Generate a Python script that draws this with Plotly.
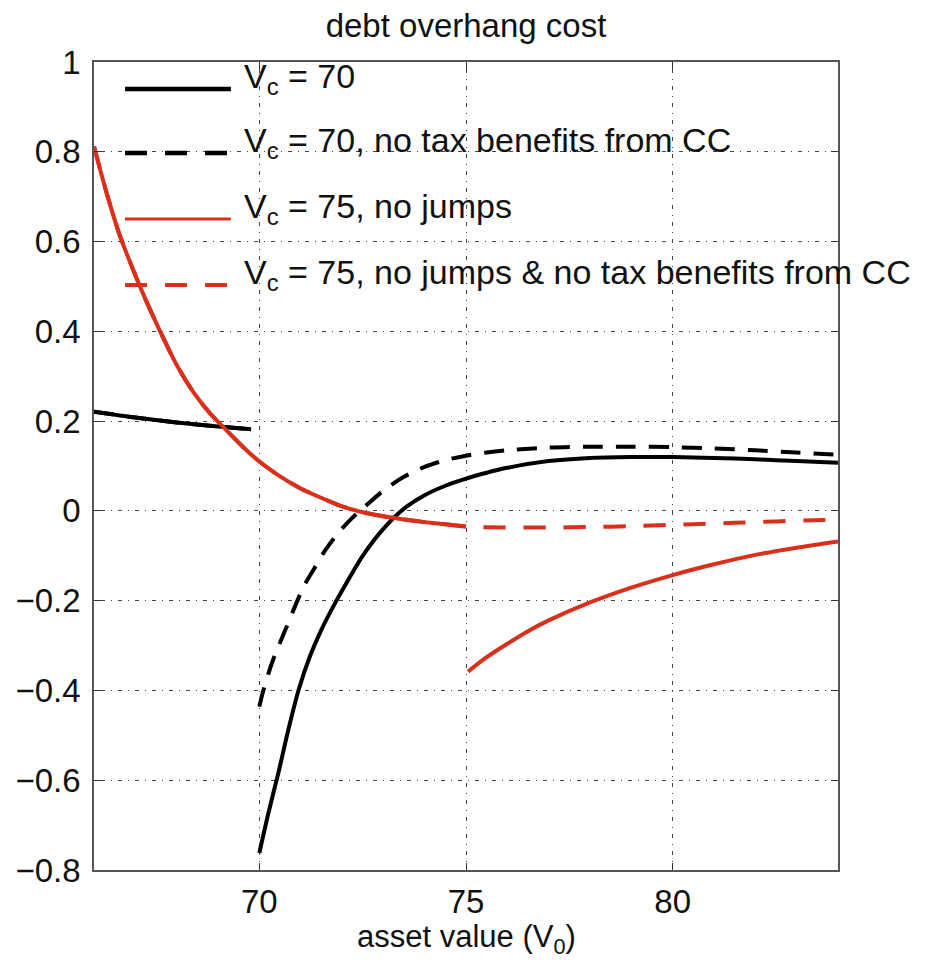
import plotly.graph_objects as go

# ---------------- data ----------------
# V_c = 70 (solid black): branch below 70 and branch from 70 on
bk_solid_x1 = [66.0, 67.0, 68.0, 69.0, 69.8]
bk_solid_y1 = [0.221, 0.208, 0.197, 0.188, 0.182]
bk_solid_x2 = [70.0, 70.22, 70.46, 70.7, 70.95, 71.22, 71.5, 71.83, 72.15, 72.5, 73.0, 73.5,
               74.0, 74.5, 75.0, 75.5, 76.0, 77.0, 78.0, 79.0, 80.0, 81.0, 82.0, 83.0, 84.0]
bk_solid_y2 = [-0.762, -0.673, -0.584, -0.488, -0.399, -0.325, -0.265, -0.206, -0.154, -0.10,
               -0.04, 0.005, 0.035, 0.056, 0.072, 0.085, 0.096, 0.111, 0.118, 0.12, 0.12,
               0.118, 0.115, 0.111, 0.107]

# V_c = 70, no tax benefits from CC (dashed black)
bk_dash_x1 = [66.0, 67.0, 68.0, 69.0, 69.8]
bk_dash_y1 = [0.221, 0.208, 0.197, 0.188, 0.182]
bk_dash_x2 = [70.0, 70.1, 70.3, 70.46, 70.63, 70.83, 71.07, 71.35, 71.6, 71.9, 72.2, 72.56,
              73.0, 73.5, 74.0, 74.5, 75.0, 75.5, 76.0, 77.0, 78.0, 79.0, 80.0, 81.0, 82.0,
              83.0, 84.0]
bk_dash_y2 = [-0.436, -0.399, -0.34, -0.302, -0.265, -0.22, -0.169, -0.125, -0.087, -0.05,
              -0.02, 0.01, 0.045, 0.076, 0.098, 0.113, 0.123, 0.13, 0.135, 0.141, 0.143,
              0.143, 0.142, 0.139, 0.135, 0.13, 0.125]

# V_c = 75, no jumps (solid red)
rd_solid_x1 = [66.0, 66.3, 66.6, 67.0, 67.3, 67.6, 68.0, 68.4, 68.8, 69.2, 69.6, 70.0, 70.5,
               71.0, 71.5, 72.0, 72.5, 73.0, 73.5, 74.0, 74.5, 75.0]
rd_solid_y1 = [0.812, 0.71, 0.62, 0.525, 0.46, 0.40, 0.325, 0.265, 0.218, 0.18, 0.143, 0.11,
               0.077, 0.05, 0.029, 0.01, -0.003, -0.012, -0.019, -0.025, -0.03, -0.035]
rd_solid_x2 = [75.05, 75.5, 76.0, 76.5, 77.0, 78.0, 79.0, 80.0, 81.0, 82.0, 83.0, 84.0]
rd_solid_y2 = [-0.358, -0.326, -0.296, -0.268, -0.244, -0.204, -0.171, -0.143, -0.119,
               -0.098, -0.082, -0.068]

# V_c = 75, no jumps & no tax benefits from CC (dashed red)
rd_dash_x = rd_solid_x1 + [76.0, 77.0, 78.0, 79.0, 80.0, 81.0, 82.0, 83.0, 84.0]
rd_dash_y = rd_solid_y1 + [-0.037, -0.037, -0.036, -0.034, -0.031, -0.028, -0.025, -0.022,
                           -0.02]

series_names = [
    "V<sub>c</sub> = 70",
    "V<sub>c</sub> = 70, no tax benefits from CC",
    "V<sub>c</sub> = 75, no jumps",
    "V<sub>c</sub> = 75, no jumps & no tax benefits from CC",
]
title_text = "debt overhang cost"
x_title = "asset value (V<sub>0</sub>)"
x_ticks = [70, 75, 80]
y_ticks = [-0.8, -0.6, -0.4, -0.2, 0, 0.2, 0.4, 0.6, 0.8, 1]
y_tick_text = ["\u22120.8", "\u22120.6", "\u22120.4", "\u22120.2", "0", "0.2", "0.4", "0.6",
               "0.8", "1"]

# ---------------- styles ----------------
BLACK = "#000000"
RED = "#d9301c"
TXT = "#111111"
FONT = "Liberation Sans, Arial, sans-serif"

def join(xa, ya, xb, yb):
    return xa + [None] + xb, ya + [None] + yb

fig = go.Figure()

x, y = join(bk_dash_x1, bk_dash_y1, bk_dash_x2, bk_dash_y2)
fig.add_trace(go.Scatter(x=x, y=y, mode="lines", name=series_names[1],
                         line=dict(color=BLACK, width=4, dash="20px,13px", shape="spline",
                                   smoothing=0.8),
                         connectgaps=False, showlegend=False))
x, y = join(bk_solid_x1, bk_solid_y1, bk_solid_x2, bk_solid_y2)
fig.add_trace(go.Scatter(x=x, y=y, mode="lines", name=series_names[0],
                         line=dict(color=BLACK, width=4, shape="spline", smoothing=0.8),
                         connectgaps=False, showlegend=False))
fig.add_trace(go.Scatter(x=rd_dash_x, y=rd_dash_y, mode="lines", name=series_names[3],
                         line=dict(color=RED, width=4, dash="22px,18px", shape="spline",
                                   smoothing=0.8),
                         showlegend=False))
x, y = join(rd_solid_x1, rd_solid_y1, rd_solid_x2, rd_solid_y2)
fig.add_trace(go.Scatter(x=x, y=y, mode="lines", name=series_names[2],
                         line=dict(color=RED, width=4, shape="spline", smoothing=0.8),
                         connectgaps=False, showlegend=False))

# ---------------- legend drawn like the original (long line samples) ----------------
leg_rows = [0.9666, 0.8874, 0.8057, 0.7240]
leg_styles = [
    dict(color=BLACK, width=4.5, dash="solid"),
    dict(color=BLACK, width=4.5, dash="22px,18px"),
    dict(color=RED, width=3, dash="solid"),
    dict(color=RED, width=4, dash="22px,18px"),
]
for k, (yy, st) in enumerate(zip(leg_rows, leg_styles)):
    fig.add_shape(type="line", xref="paper", yref="paper", x0=0.0417, x1=0.184, y0=yy, y1=yy,
                  line=st)
    fig.add_annotation(xref="paper", yref="paper", x=0.199, y=yy + 0.013, xanchor="left",
                       yanchor="middle", text=series_names[k], showarrow=False,
                       font=dict(family=FONT, size=34, color=TXT))

# x-axis title placed as text under the tick labels
fig.add_annotation(xref="paper", yref="paper", x=0.5, y=-0.086, xanchor="center",
                   yanchor="middle", text=x_title, showarrow=False,
                   font=dict(family=FONT, size=31, color=TXT))

grid_dash = "1px,6px,4px,6px"
common_axis = dict(ticks="inside", ticklen=7, tickcolor="#333", showline=True,
                   linecolor="#555", linewidth=1.5, mirror="allticks", showgrid=True,
                   gridcolor="#444", gridwidth=1, griddash=grid_dash, zeroline=False,
                   tickfont=dict(family=FONT, size=33, color=TXT))
fig.update_xaxes(range=[66, 84], tickvals=x_ticks, ticklabelstandoff=2, **common_axis)
fig.update_yaxes(range=[-0.8, 1], tickvals=y_ticks, ticktext=y_tick_text,
                 ticklabelstandoff=5, **common_axis)

fig.update_layout(
    width=934, height=960,
    margin=dict(l=94, r=96, t=62, b=90, autoexpand=False),
    paper_bgcolor="white", plot_bgcolor="white",
    title=dict(text=title_text, x=0.5, xanchor="center", xref="paper",
               y=1 - 25 / 960, yref="container", yanchor="middle",
               font=dict(family=FONT, size=33, color=TXT)),
    showlegend=False,
)

# drop the browser's default 8px page margin so the figure fills the window exactly
fig.write_html("out.html", config={"displayModeBar": False},
               post_script="document.body.style.margin='0';document.body.style.overflow='hidden';")
